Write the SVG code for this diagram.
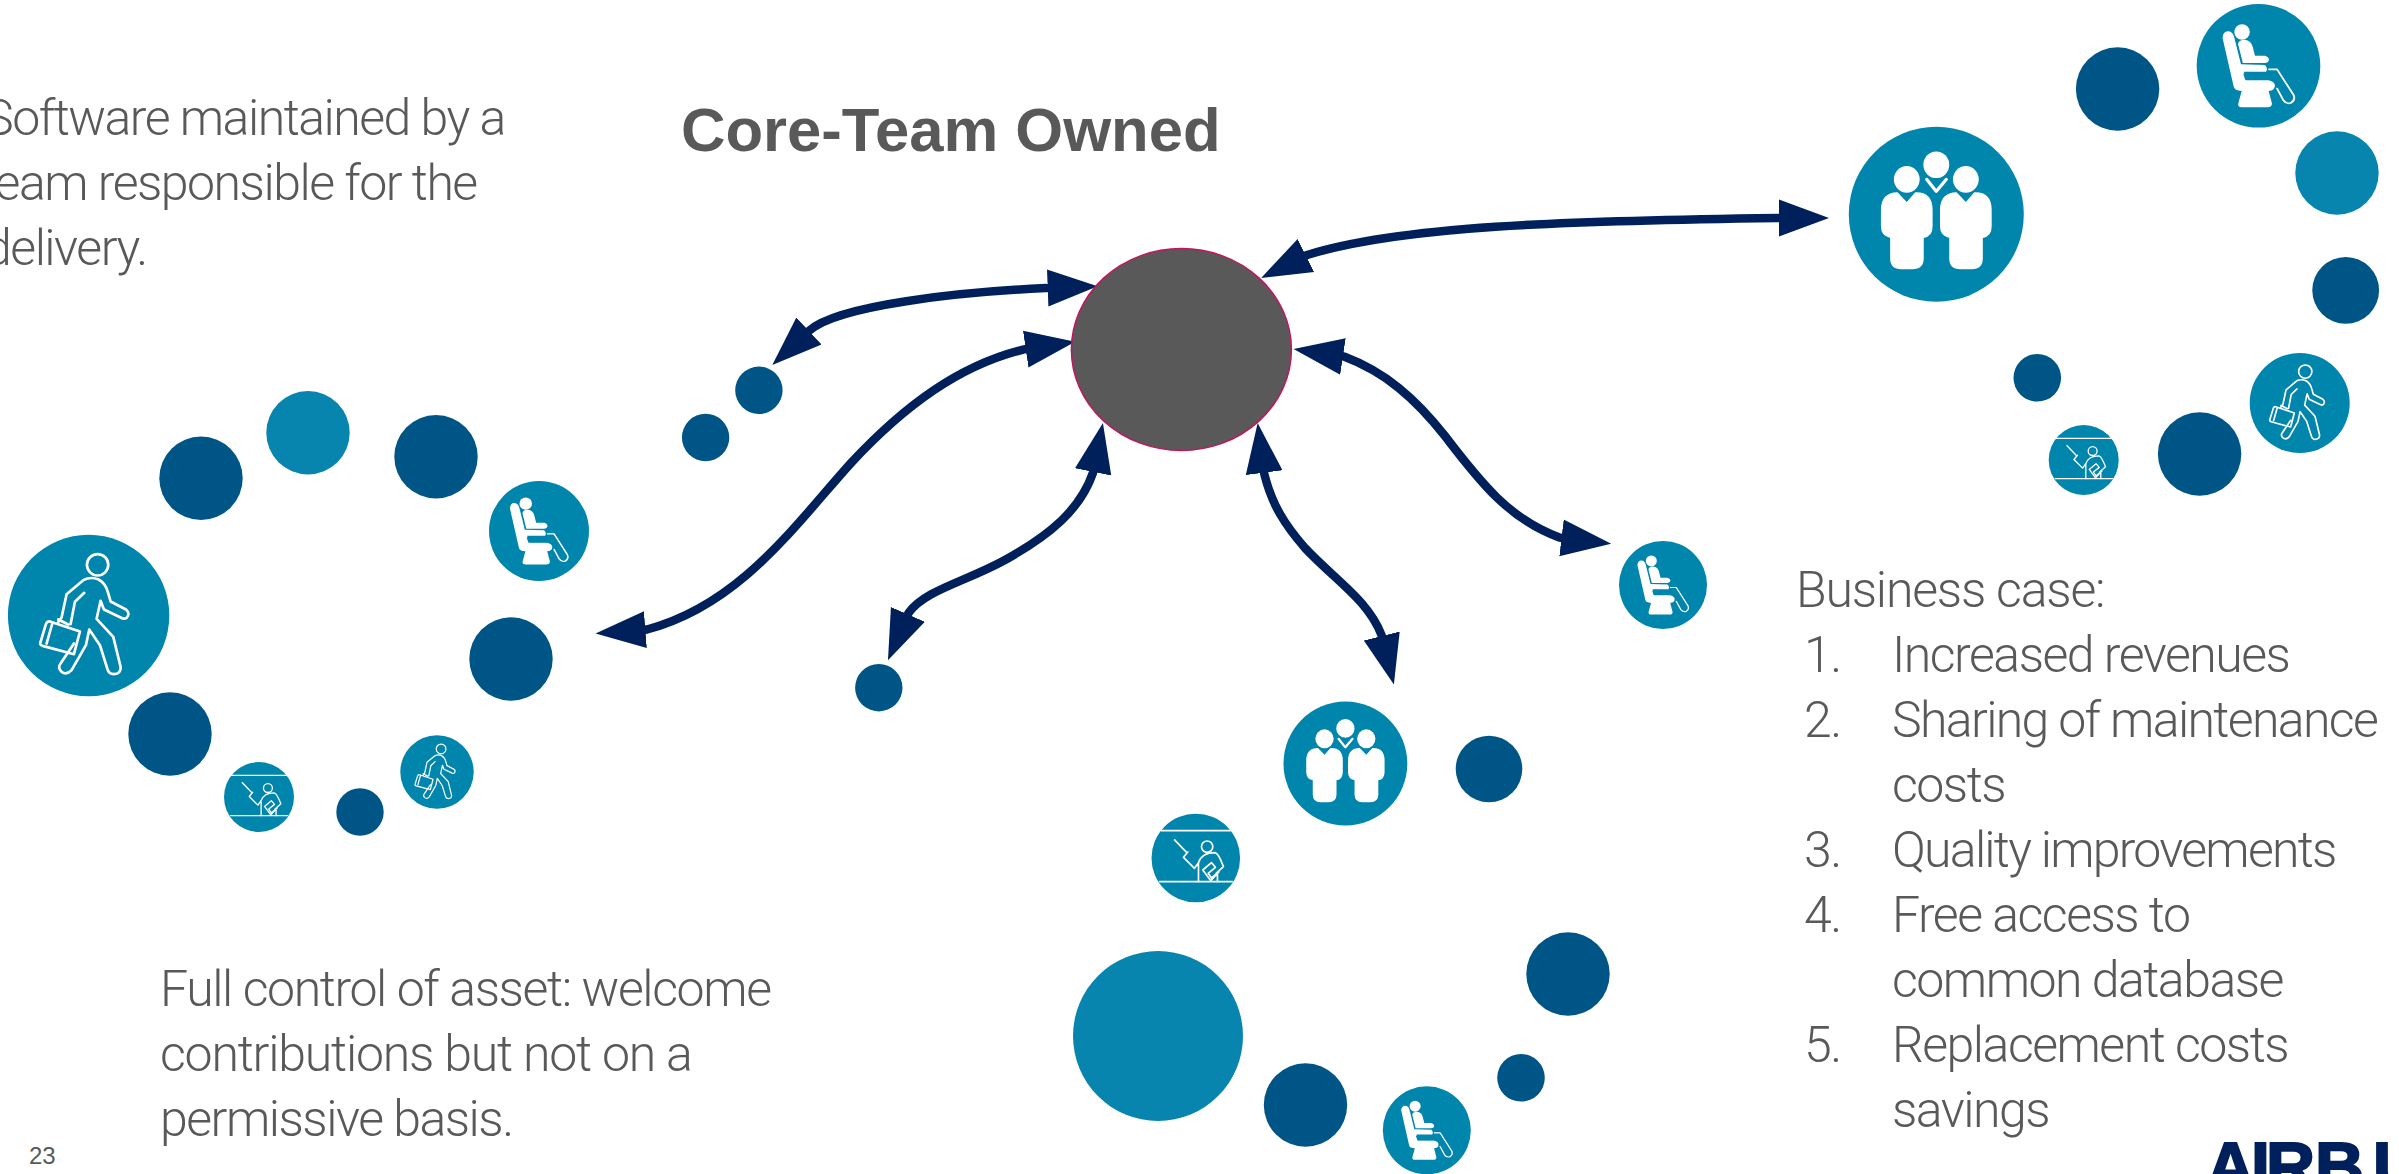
<svg xmlns="http://www.w3.org/2000/svg" xmlns:xlink="http://www.w3.org/1999/xlink" width="2399" height="1174" viewBox="0 0 2399 1174">
<style>
.dark{fill:#005587}.light{fill:#0885ae}.icon{fill:#0085ad}
.t{font-family:"Roboto","Liberation Sans",sans-serif;font-weight:300;font-size:50px;letter-spacing:-1.5px;fill:#595959}
.h{font-family:"Liberation Sans",Arial,sans-serif;font-weight:700;font-size:61.6px;fill:#595959}
.a{fill:none;stroke:#00205b;stroke-width:8.5}
.o{fill:none;stroke:#fff;stroke-linecap:round;stroke-linejoin:round}
.w{fill:#fff}
</style>
<defs>
<marker id="head" markerUnits="userSpaceOnUse" markerWidth="54" markerHeight="42" refX="1" refY="21" orient="auto-start-reverse"><path d="M0,2.5L50,21L0,39.5Z" fill="#00205b"/></marker>
<symbol id="walker" viewBox="24 14 484 484" overflow="visible">
<ellipse class="o" stroke-width="8" cx="293" cy="104" rx="32" ry="32"/>
<path class="o" stroke-width="8" d="M200,192L250,150Q272,138 296,148Q318,160 325,190L332,214L378,238Q392,250 380,263Q372,268 362,262L312,238L302,212L290,266L340,320L362,410Q364,430 342,432Q326,432 322,415L300,345L268,298L258,345L215,420Q200,436 185,425Q172,412 182,400L222,340M200,192L185,262L175,275M253,188L225,215L212,282M150,274L240,304L222,372L128,347Q118,344 122,335L138,282Q142,272 150,274ZM158,277L140,340M175,268L205,283"/>
</symbol>
<symbol id="seat" viewBox="1020 11 335 371" preserveAspectRatio="none" overflow="visible">
<ellipse class="w" cx="1143" cy="95" rx="21" ry="23"/>
<path class="w" d="M1090,112Q1092,92 1106,93Q1118,94 1122,112L1140,192L1205,194Q1214,205 1208,214L1148,214L1153,240L1215,240Q1233,245 1232,258Q1230,272 1215,272L1224,310Q1224,321 1212,321L1142,321Q1130,321 1133,308L1142,272Q1122,272 1120,258Z"/>
<path class="w" d="M1132,130Q1135,118 1150,118Q1168,120 1172,140L1178,166L1205,166Q1216,170 1216,178Q1214,188 1204,188L1145,188Z"/>
<path class="o" stroke-width="5" d="M1216,207L1238,207L1283,285Q1288,300 1275,308Q1262,312 1255,300L1238,265"/>
<path fill="none" stroke="#0085ad" stroke-width="4" d="M1148,220L1153,236L1222,236"/>
</symbol>
<symbol id="group" viewBox="78 380 474 526" preserveAspectRatio="none" overflow="visible">
<ellipse class="w" cx="235" cy="538" rx="35" ry="40"/>
<ellipse class="w" cx="395" cy="538" rx="35" ry="40"/>
<ellipse class="w" cx="315" cy="494" rx="35" ry="40"/>
<path class="o" stroke-width="9" d="M289,538L315,574L342,538"/>
<path class="w" d="M210,577L235,606L258,577Q305,575 305,630L305,680Q305,710 281,714L281,775Q281,808 250,808L220,808Q190,808 190,775L190,714Q165,708 165,680L165,630Q165,578 210,577Z"/>
<path class="w" transform="translate(160,0)" d="M210,577L235,606L258,577Q305,575 305,630L305,680Q305,710 281,714L281,775Q281,808 250,808L220,808Q190,808 190,775L190,714Q165,708 165,680L165,630Q165,578 210,577Z"/>
</symbol>
<symbol id="teacher" viewBox="34 11 266 266" overflow="visible">
<path class="o" stroke-width="5" style="stroke-linecap:butt" d="M62,62H272M57,215H278M102,88L140,128"/>
<circle class="o" stroke-width="5" cx="201" cy="110" r="17"/>
<path class="o" stroke-width="5" d="M143,126L130,142L163,175L175,158Q185,128 225,128Q235,130 250,170L228,190M175,160V215M232,192V215M188,180L214,158L226,172L204,190L214,204L236,186L212,212Z"/>
</symbol>
</defs>
<rect width="2399" height="1174" fill="#fff"/>
<g id="connectors">
<path class="a" marker-start="url(#head)" marker-end="url(#head)" d="M1048.7,288L1046,288.1C960,292 838,305 809.6,330.4L808.2,331.7"/>
<path class="a" marker-start="url(#head)" marker-end="url(#head)" d="M1026.7,349L1024,349.4C960,365 905,405 851,463C795,525 740,605 647,629.5L644.4,629.7"/>
<path class="a" marker-start="url(#head)" marker-end="url(#head)" d="M1305,256L1307,255C1400,226 1560,221 1778,218L1780,218"/>
<path class="a" marker-start="url(#head)" marker-end="url(#head)" d="M1342,356.3L1344,356.6C1385,372 1415,398 1445,436C1480,482 1510,520 1560,537.7L1562.5,538"/>
<path class="a" marker-start="url(#head)" marker-end="url(#head)" d="M1264,471.7L1264.3,474C1272,505 1285,525 1305,548C1335,580 1368,600 1381.5,635L1382,637"/>
<path class="a" marker-start="url(#head)" marker-end="url(#head)" d="M1093.3,471L1092.9,473C1080,510 1050,535 1005,560C965,582 925,590 908.5,613L907.5,615.3"/>
</g>
<g id="node-center"><ellipse cx="1181.4" cy="349.5" rx="110" ry="101" fill="#595959" stroke="#c4145f" stroke-width="1.5"/></g>
<g id="cluster-left">
<g id="l1"><circle class="icon" cx="88.6" cy="615.5" r="80.7"/><use href="#walker" x="7.9" y="534.8" width="161.4" height="161.4"/></g>
<g id="l2"><circle class="dark" cx="201" cy="478.3" r="41.7"/></g>
<g id="l3"><circle class="light" cx="308" cy="432.7" r="41.7"/></g>
<g id="l4"><circle class="dark" cx="436" cy="456.7" r="41.7"/></g>
<g id="l5"><circle class="icon" cx="539" cy="531" r="50"/><use href="#seat" x="489" y="481" width="100" height="100"/></g>
<g id="l6"><circle class="dark" cx="511" cy="659" r="41.7"/></g>
<g id="l7"><circle class="icon" cx="437" cy="772" r="36.7"/><use href="#walker" x="400.3" y="735.3" width="73.4" height="73.4"/></g>
<g id="l8"><circle class="dark" cx="360" cy="812" r="23.7"/></g>
<g id="l9"><circle class="icon" cx="259" cy="797" r="35"/><use href="#teacher" x="224" y="762" width="70" height="70"/></g>
<g id="l10"><circle class="dark" cx="170" cy="734" r="41.7"/></g>
</g>
<g id="cluster-right">
<g id="r1"><circle class="icon" cx="1936.3" cy="214.3" r="87.5"/><use href="#group" x="1848.8" y="126.8" width="175" height="175"/></g>
<g id="r2"><circle class="dark" cx="2117.6" cy="89" r="41.7"/></g>
<g id="r3"><circle class="icon" cx="2258.5" cy="65.8" r="61.8"/><use href="#seat" x="2196.7" y="4" width="123.6" height="123.6"/></g>
<g id="r4"><circle class="light" cx="2337" cy="173" r="41.7"/></g>
<g id="r5"><circle class="dark" cx="2345.7" cy="290.3" r="33.4"/></g>
<g id="r6"><circle class="icon" cx="2299.7" cy="403" r="50"/><use href="#walker" x="2249.7" y="353" width="100" height="100"/></g>
<g id="r7"><circle class="dark" cx="2199.6" cy="454" r="41.7"/></g>
<g id="r8"><circle class="icon" cx="2083.7" cy="460" r="35"/><use href="#teacher" x="2048.7" y="425" width="70" height="70"/></g>
<g id="r9"><circle class="dark" cx="2037.3" cy="377.8" r="23.8"/></g>
</g>
<g id="cluster-bottom">
<g id="b1"><circle class="icon" cx="1345.4" cy="763.5" r="61.9"/><use href="#group" x="1283.5" y="701.6" width="123.8" height="123.8"/></g>
<g id="b2"><circle class="dark" cx="1489" cy="769" r="33.3"/></g>
<g id="b3"><circle class="dark" cx="1568" cy="974" r="41.7"/></g>
<g id="b4"><circle class="dark" cx="1521" cy="1077.8" r="23.8"/></g>
<g id="b5"><circle class="icon" cx="1426.8" cy="1130.3" r="44"/><use href="#seat" x="1382.8" y="1086.3" width="88" height="88"/></g>
<g id="b6"><circle class="dark" cx="1305.5" cy="1105" r="41.7"/></g>
<g id="b7"><circle class="light" cx="1158" cy="1036" r="85"/></g>
<g id="b8"><circle class="icon" cx="1195.8" cy="858" r="44.3"/><use href="#teacher" x="1151.5" y="813.7" width="88.6" height="88.6"/></g>
</g>
<g id="node-small">
<g id="s1"><circle class="dark" cx="758.9" cy="390.3" r="23.7"/></g>
<g id="s2"><circle class="dark" cx="705.6" cy="437.5" r="23.7"/></g>
<g id="s3"><circle class="dark" cx="878.8" cy="687.7" r="23.7"/></g>
<g id="s4"><circle class="icon" cx="1663" cy="585" r="44"/><use href="#seat" x="1619" y="541" width="88" height="88"/></g>
</g>
<g id="texts">
<text class="h" x="681" y="151">Core-Team Owned</text>
<text class="t" x="-16" y="135">Software maintained by a</text>
<text class="t" x="-20" y="200">team responsible for the</text>
<text class="t" x="-16" y="265">delivery.</text>
<text class="t" x="160" y="1006" style="letter-spacing:-1.4px">Full control of asset: welcome</text>
<text class="t" x="160" y="1071" style="letter-spacing:-1.2px">contributions but not on a</text>
<text class="t" x="160" y="1136">permissive basis.</text>
<text x="29" y="1164" style="font-family:'Liberation Sans',sans-serif;font-size:24px;fill:#595959">23</text>
<text class="t" x="1796" y="607" style="letter-spacing:-1.2px">Business case:</text>
<text class="t" x="1804" y="672">1.</text><text class="t" x="1892" y="672">Increased revenues</text>
<text class="t" x="1804" y="737">2.</text><text class="t" x="1892" y="737" style="letter-spacing:-1.65px">Sharing of maintenance</text>
<text class="t" x="1892" y="802">costs</text>
<text class="t" x="1804" y="867">3.</text><text class="t" x="1892" y="867" style="letter-spacing:-1.75px">Quality improvements</text>
<text class="t" x="1804" y="932">4.</text><text class="t" x="1892" y="932">Free access to</text>
<text class="t" x="1892" y="997">common database</text>
<text class="t" x="1804" y="1062">5.</text><text class="t" x="1892" y="1062">Replacement costs</text>
<text class="t" x="1892" y="1127">savings</text>
<text x="2206 2251 2266 2315 2373" y="1190" style="font-family:'Liberation Sans',sans-serif;font-weight:700;font-size:68px;fill:#00205b;stroke:#00205b;stroke-width:2">AIRBU</text>
</g>
</svg>
